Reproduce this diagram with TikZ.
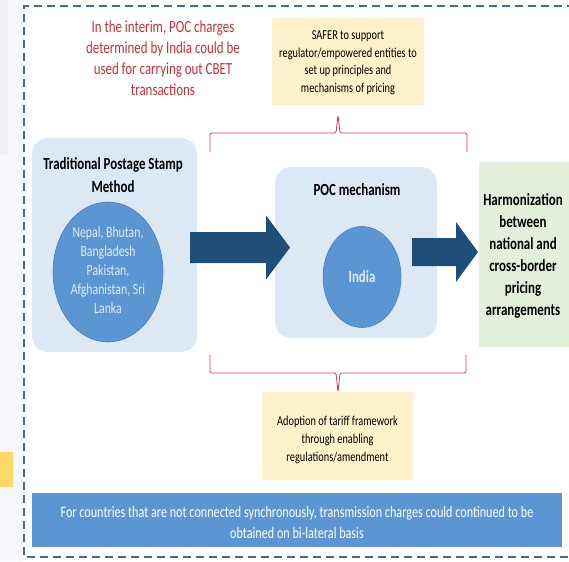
\documentclass[tikz,border=0pt]{standalone}
\usepackage{fontspec}
\setmainfont{Carlito}[FakeStretch=0.76]
\usetikzlibrary{shapes.geometric,calc}
\definecolor{lightbox}{RGB}{221,232,245}
\definecolor{midblue}{RGB}{91,150,210}
\definecolor{midedge}{RGB}{74,128,188}
\definecolor{darkarrow}{RGB}{31,78,121}
\definecolor{redtext}{RGB}{196,48,56}
\definecolor{braceline}{RGB}{200,62,84}
\definecolor{paleyellow}{RGB}{255,241,204}
\definecolor{palegreen}{RGB}{226,239,218}
\definecolor{framecol}{RGB}{62,108,156}
\definecolor{margincol}{RGB}{245,247,250}
\definecolor{margindark}{RGB}{238,240,244}
\definecolor{goldbar}{RGB}{255,217,102}
\definecolor{lighttext}{RGB}{225,236,248}
\tikzset{
  panelbox/.style={fill=lightbox, draw=none, rounded corners=16pt},
  bluedisc/.style={ellipse, fill=midblue, draw=midedge, line width=0.6pt, inner sep=0pt},
  blockarrow/.style={fill=darkarrow, draw=none},
  notebox/.style={fill=paleyellow, draw=none, align=center, text=black, inner sep=0pt},
  bracepath/.style={draw=braceline, line width=0.8pt, rounded corners=1.5pt},
  titletxt/.style={align=center, font=\fontsize{17}{23}\selectfont\bfseries, text=black},
}
\begin{document}
\begin{tikzpicture}[x=1pt,y=-1pt]
\useasboundingbox (0,0) rectangle (569,561);
% margin background
\fill[margincol] (0,0) rectangle (23,561);
\fill[margindark] (0,0) rectangle (8,155);
\fill[goldbar] (0,452) rectangle (13,487);
% dashed frame
\draw[framecol, line width=1.8pt, dash pattern=on 8pt off 5pt] (575,6) -- (24,6) -- (24,557) -- (575,557);

% red interim text
\node[align=center, text=redtext, font=\fontsize{17}{21}\selectfont] (interim) at (163,58.5)
  {In the interim, POC charges\\determined by India could be\\used for carrying out CBET\\transactions};

% SAFER box
\node[notebox, minimum width=152pt, minimum height=87pt] (safer) at (348,61.5) {};
\node[align=center, font=\fontsize{13.6}{17.5}\selectfont] (safertxt) at (348,63)
  {SAFER to support\\regulator/empowered entities to\\set up principles and\\mechanisms of pricing};

% left panel
\node[panelbox, minimum width=165pt, minimum height=214pt] (leftpanel) at (114.5,245) {};
\node[titletxt] (lefttitle) at (113,175) {Traditional Postage Stamp\\Method};
\node[bluedisc, minimum width=110pt, minimum height=140pt] (countries) at (108,272) {};
\node[align=center, text=lighttext, font=\fontsize{15.5}{19}\selectfont] (countriestxt) at (108,270)
  {Nepal, Bhutan,\\Bangladesh\\Pakistan,\\Afghanistan, Sri\\Lanka};

% POC panel
\node[panelbox, minimum width=162pt, minimum height=171pt] (pocpanel) at (356,252.5) {};
\node[titletxt] (poctitle) at (357,190) {POC mechanism};
\node[bluedisc, minimum width=78pt, minimum height=101pt] (india) at (362,277) {};
\node[text=lighttext, font=\fontsize{17}{21}\selectfont\bfseries] (indiatxt) at (362,277) {India};

% green box
\node[fill=palegreen, draw=none, minimum width=96pt, minimum height=185pt, inner sep=0pt] (harmbox) at (527,254.5) {};
\node[titletxt, font=\fontsize{17}{22}\selectfont\bfseries] (harmtxt) at (523,256)
  {Harmonization\\between\\national and\\cross-border\\pricing\\arrangements};

% block arrows
\coordinate (a1s) at (190,247.5);
\coordinate (a1t) at (290,247.5);
\fill[blockarrow] ($(a1s)+(0,-15.5)$) -- ($(a1t)+(-24,-15.5)$) -- ($(a1t)+(-24,-32)$) -- (a1t)
  -- ($(a1t)+(-24,32)$) -- ($(a1t)+(-24,15.5)$) -- ($(a1s)+(0,15.5)$) -- cycle;
\coordinate (a2s) at (412,252);
\coordinate (a2t) at (478,252);
\fill[blockarrow] ($(a2s)+(0,-14)$) -- ($(a2t)+(-22,-14)$) -- ($(a2t)+(-22,-30)$) -- (a2t)
  -- ($(a2t)+(-22,30)$) -- ($(a2t)+(-22,14)$) -- ($(a2s)+(0,14)$) -- cycle;

% top brace
\coordinate (tb) at (338,115);
\draw[bracepath] (210,152) -- (210,133) -- (336,133) -- (tb) -- (340,133) -- (467,133) -- (467,152);

% bottom yellow box
\node[notebox, minimum width=151pt, minimum height=88pt] (adopt) at (337.5,436) {};
\node[align=center, font=\fontsize{13.6}{18.2}\selectfont] (adopttxt) at (337.5,440)
  {Adoption of tariff framework\\through enabling\\regulations/amendment};

% bottom brace
\coordinate (bb) at (338,392);
\draw[bracepath] (210,355) -- (210,373) -- (336,373) -- (bb) -- (340,373) -- (466,373) -- (466,355);

% bottom bar
\node[fill=midblue, draw=none, minimum width=530pt, minimum height=54pt, inner sep=0pt] (bar) at (297,520) {};
\node[align=center, text=white, font=\fontsize{16}{21.5}\selectfont] (bartxt) at (297,522.5)
  {For countries that are not connected synchronously, transmission charges could continued to be\\obtained on bi-lateral basis};
\end{tikzpicture}
\end{document}
